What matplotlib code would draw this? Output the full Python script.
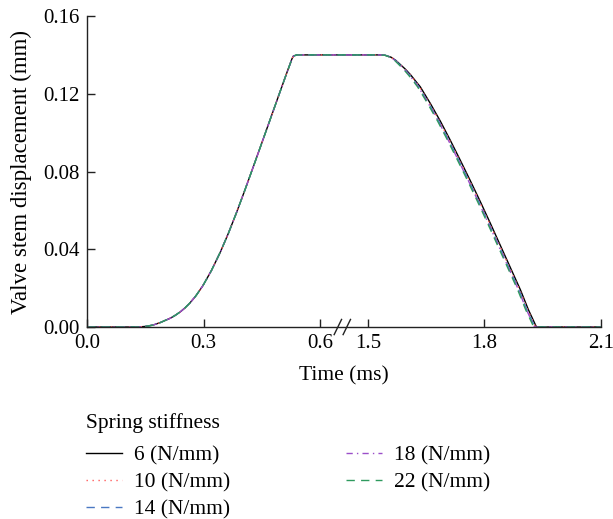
import matplotlib
matplotlib.use("Agg")
import matplotlib.pyplot as plt
import numpy as np

# broken time axis: 0.0-0.6 ms, then 1.5-2.1 ms
BREAK_LO = 0.6
BREAK_HI = 1.5
GAP = 0.1225  # visual gap between the two parts, in axis units

stiffness = ["6 (N/mm)", "10 (N/mm)", "14 (N/mm)", "18 (N/mm)", "22 (N/mm)"]

# opening stroke (all curves overlap)
rise_t = [0.0, 0.13, 0.15, 0.17, 0.19, 0.20, 0.214, 0.227, 0.24, 0.252, 0.265, 0.28, 0.298,
          0.32, 0.343, 0.364, 0.385, 0.406, 0.428, 0.45, 0.471, 0.492, 0.514, 0.522, 0.527, 0.531, 0.54]
rise_y = [0.0, 0.0, 0.0003, 0.001, 0.0024, 0.0033, 0.0045, 0.006, 0.0078, 0.0098, 0.0124, 0.0160, 0.0212,
          0.0290, 0.0385, 0.0483, 0.0590, 0.0703, 0.0825, 0.0948, 0.1066, 0.1184, 0.1307, 0.1350, 0.1378, 0.1394, 0.14]

# closing stroke, displacement shared, time slightly earlier for stiffer springs
fall_y = [0.14, 0.1398, 0.1388, 0.1372, 0.1350, 0.1326, 0.1298, 0.1268, 0.1236, 0.1150, 0.1058,
          0.0962, 0.0858, 0.0752, 0.0643, 0.0535, 0.0420, 0.0305, 0.0190, 0.0090, 0.0]
fall_t_6 = [1.533, 1.545, 1.560, 1.572, 1.584, 1.597, 1.610, 1.622, 1.635, 1.661, 1.687,
            1.712, 1.738, 1.764, 1.790, 1.815, 1.841, 1.867, 1.893, 1.913, 1.934]
fall_t_10 = [1.533, 1.545, 1.560, 1.572, 1.583, 1.596, 1.609, 1.621, 1.633, 1.659, 1.685,
             1.710, 1.736, 1.762, 1.788, 1.813, 1.839, 1.865, 1.891, 1.911, 1.932]
fall_t_14 = [1.533, 1.545, 1.559, 1.571, 1.582, 1.595, 1.607, 1.619, 1.631, 1.657, 1.683,
             1.708, 1.734, 1.760, 1.786, 1.811, 1.837, 1.863, 1.889, 1.909, 1.930]
fall_t_18 = [1.533, 1.545, 1.559, 1.570, 1.582, 1.594, 1.606, 1.618, 1.630, 1.656, 1.682,
             1.707, 1.733, 1.759, 1.785, 1.810, 1.836, 1.862, 1.888, 1.908, 1.929]
fall_t_22 = [1.533, 1.544, 1.558, 1.569, 1.580, 1.592, 1.604, 1.616, 1.628, 1.654, 1.680,
             1.705, 1.731, 1.757, 1.783, 1.808, 1.834, 1.860, 1.886, 1.906, 1.927]
fall_times = [fall_t_6, fall_t_10, fall_t_14, fall_t_18, fall_t_22]
end_t = 2.1

x_ticks = [0.0, 0.3, 0.6, 1.5, 1.8, 2.1]
y_ticks = [0.0, 0.04, 0.08, 0.12, 0.16]

colors = ["#000000", "#ff5a5a", "#4a78c2", "#9b4fc9", "#2e9a5e"]
styles = ["-", (0, (1, 3.3)), (0, (6, 4.5)), (0, (4.5, 3, 1, 3)), (0, (6, 4.5))]


def to_axis(t):
    t = np.asarray(t, dtype=float)
    return np.where(t <= BREAK_LO + 0.3, t, t - BREAK_HI + BREAK_LO + GAP)


plt.rcParams["font.family"] = "Liberation Serif"
plt.rcParams["font.size"] = 15

fig = plt.figure(figsize=(6.13, 5.19), dpi=100)
ax = fig.add_axes([0.1419, 0.3699, 0.8385, 0.5992])

for i, name in enumerate(stiffness):
    t = np.concatenate([rise_t, fall_times[i], [end_t]])
    y = np.concatenate([rise_y, fall_y, [0.0]])
    ax.plot(to_axis(t), y, color=colors[i], linestyle=styles[i], lw=1.0, label=name)

ax.set_xlim(0, float(to_axis(end_t)))
ax.set_ylim(0, 0.16)
ax.set_xticks(to_axis(x_ticks))
ax.set_xticklabels(["%.1f" % v for v in x_ticks])
ax.set_yticks(y_ticks)
ax.set_yticklabels(["%.2f" % v for v in y_ticks])
ax.tick_params(direction="in", length=6, width=1, color="#222222", pad=5, labelsize=15)
for side in ["top", "right"]:
    ax.spines[side].set_visible(False)
for side in ["left", "bottom"]:
    ax.spines[side].set_color("#222222")
    ax.spines[side].set_linewidth(1)

ax.set_xlabel("Time (ms)", fontsize=15.5, labelpad=9.5)
ax.set_ylabel("Valve stem displacement (mm)", fontsize=16.5, labelpad=8)

# break marks on the time axis
mid = BREAK_LO + 0.057
for dx in (-0.0115, 0.0115):
    ax.plot([mid + dx - 0.0095, mid + dx + 0.0095], [-0.0039, 0.0039], color="#222222",
            lw=1, clip_on=False)

leg = fig.legend(loc="upper left", bbox_to_anchor=(0.140, 0.204), ncol=2, frameon=False,
                 title="Spring stiffness", alignment="left", handlelength=1.67,
                 handletextpad=0.56, columnspacing=5.4, labelspacing=0.33, borderpad=0,
                 borderaxespad=0, fontsize=15.5)
leg.get_title().set_fontsize(15.5)
leg._legend_box.sep = 9  # more room under the title

fig.savefig("out.png", dpi=100)
